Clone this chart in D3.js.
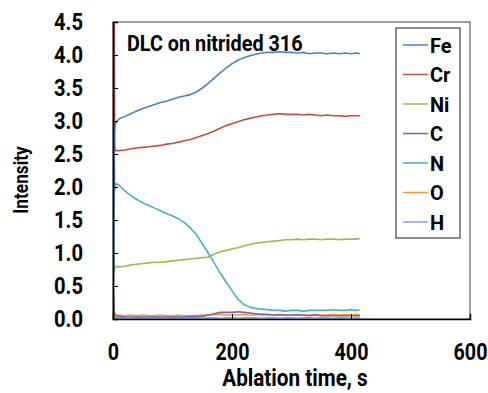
<!DOCTYPE html>
<meta charset="utf-8">
<script src="https://cdn.jsdelivr.net/npm/d3@7"></script>
<style>
  body { margin: 0; background: #fff; }
  text { font-family: Roboto, "Liberation Sans", sans-serif; font-weight: 700; fill: #000; }
</style>
<div id="chart"></div>

<script>
    var width = 488, height = 393;

    // ablation time (s)
    const time = [0, 1, 2, 3, 5, 10, 20, 30, 40, 50, 60, 70, 80, 90, 100, 110, 120, 130, 140, 150,
        160, 170, 180, 190, 200, 210, 220, 230, 240, 250, 260, 270, 280, 290, 300, 310, 320,
        330, 340, 350, 360, 370, 380, 390, 400, 410, 415];

    const fe = [0, 0.5, 2.8, 2.9, 2.98, 3.03, 3.07, 3.11, 3.15, 3.19, 3.22, 3.25, 3.28, 3.3, 3.33, 3.36, 3.38, 3.4, 3.44, 3.5,
        3.57, 3.65, 3.73, 3.8, 3.87, 3.92, 3.96, 3.99, 4.01, 4.03, 4.04, 4.04, 4.05, 4.04, 4.04, 4.03, 4.04,
        4.02, 4.03, 4.03, 4.02, 4.03, 4.02, 4.03, 4.02, 4.03, 4.02];
    const cr = [0, 4.8, 4.8, 2.6, 2.55, 2.55, 2.56, 2.58, 2.59, 2.6, 2.61, 2.62, 2.63, 2.65, 2.66, 2.68, 2.7, 2.72, 2.75, 2.78,
        2.81, 2.85, 2.89, 2.93, 2.96, 2.99, 3.02, 3.04, 3.06, 3.08, 3.09, 3.1, 3.11, 3.1, 3.1, 3.1, 3.09,
        3.1, 3.09, 3.08, 3.09, 3.08, 3.08, 3.07, 3.08, 3.08, 3.08];
    const ni = [0, 1.1, 0.7, 0.78, 0.8, 0.79, 0.8, 0.82, 0.83, 0.84, 0.85, 0.86, 0.86, 0.87, 0.88, 0.89, 0.9, 0.91, 0.92, 0.93,
        0.94, 0.98, 1.02, 1.04, 1.06, 1.08, 1.11, 1.13, 1.15, 1.16, 1.17, 1.18, 1.19, 1.2, 1.2, 1.21, 1.2,
        1.21, 1.21, 1.2, 1.21, 1.21, 1.2, 1.21, 1.21, 1.21, 1.22];
    const c = [0, 0.35, 0.1, 0.06, 0.05, 0.04, 0.03, 0.03, 0.03, 0.03, 0.03, 0.03, 0.03, 0.03, 0.03, 0.03, 0.03, 0.04, 0.04, 0.04,
        0.06, 0.08, 0.1, 0.1, 0.1, 0.11, 0.1, 0.09, 0.08, 0.07, 0.07, 0.06, 0.06, 0.06, 0.06, 0.06, 0.06,
        0.05, 0.06, 0.05, 0.05, 0.05, 0.05, 0.05, 0.05, 0.05, 0.05];
    const n = [0, 1.5, 2.75, 1.95, 2.05, 2.03, 1.94, 1.87, 1.81, 1.76, 1.72, 1.68, 1.64, 1.6, 1.56, 1.52, 1.46, 1.38, 1.28, 1.14,
        1.0, 0.85, 0.7, 0.56, 0.43, 0.3, 0.22, 0.18, 0.16, 0.15, 0.14, 0.13, 0.13, 0.12, 0.13, 0.13, 0.12,
        0.13, 0.13, 0.13, 0.13, 0.14, 0.13, 0.13, 0.14, 0.13, 0.14];
    const o = [0, 0.45, 0.15, 0.08, 0.06, 0.06, 0.05, 0.06, 0.05, 0.06, 0.05, 0.05, 0.06, 0.05, 0.05, 0.06, 0.05, 0.05, 0.05, 0.06,
        0.06, 0.06, 0.07, 0.06, 0.06, 0.06, 0.07, 0.06, 0.06, 0.07, 0.06, 0.06, 0.07, 0.06, 0.06, 0.07, 0.06,
        0.06, 0.07, 0.06, 0.06, 0.07, 0.06, 0.07, 0.06, 0.07, 0.06];
    const h = [0, 0.3, 0.05, 0.03, 0.02, 0.02, 0.02, 0.01, 0.02, 0.02, 0.01, 0.02, 0.02, 0.01, 0.02, 0.02, 0.01, 0.02, 0.02, 0.01,
        0.02, 0.02, 0.01, 0.02, 0.02, 0.01, 0.02, 0.02, 0.02, 0.01, 0.02, 0.02, 0.01, 0.02, 0.02, 0.01, 0.02,
        0.02, 0.01, 0.02, 0.02, 0.01, 0.02, 0.02, 0.01, 0.02, 0.02];

    const names = ["Fe", "Cr", "Ni", "C", "N", "O", "H"];
    const colors = ["#4F81BD", "#C0504D", "#9BBB59", "#8064A2", "#4BACC6", "#F79646", "#7EA3DC"];
    const xTicks = [0, 200, 400, 600];
    const yTicks = [0, 0.5, 1, 1.5, 2, 2.5, 3, 3.5, 4, 4.5];

    var series = [fe, cr, ni, c, n, o, h];

    var svg = d3.select("#chart")
        .append("svg")
            .attr("width", width)
            .attr("height", height);

    var x = d3.scaleLinear().domain([0, 600]).range([113, 470]);
    var y = d3.scaleLinear().domain([0, 4.5]).range([319, 22]);

    // squeeze text horizontally, the original uses a condensed face
    function condense(sel, k) {
        sel.each(function() {
            var len = this.getComputedTextLength();
            d3.select(this).attr("textLength", len * k).attr("lengthAdjust", "spacingAndGlyphs");
        });
    }

    svg.append("clipPath").attr("id", "plot-clip")
        .append("rect")
        .attr("x", x(0)).attr("y", y(4.5))
        .attr("width", x(600) - x(0)).attr("height", y(0) - y(4.5));

    // frame
    svg.append("rect")
        .attr("x", x(0)).attr("y", y(4.5))
        .attr("width", x(600) - x(0)).attr("height", y(0) - y(4.5))
        .attr("fill", "none")
        .attr("stroke", "#7f7f7f")
        .attr("stroke-width", 1.5);

    var line = d3.line()
        .x(function(d) { return x(d[0]); })
        .y(function(d) { return y(d[1]); });

    var order = [6, 5, 3, 2, 4, 1, 0];
    svg.append("g")
        .attr("clip-path", "url(#plot-clip)")
        .selectAll("path")
        .data(order)
        .enter().append("path")
            .attr("d", function(i) { return line(time.map(function(t, k) { return [t, series[i][k]]; })); })
            .attr("fill", "none")
            .attr("stroke", function(i) { return colors[i]; })
            .attr("stroke-width", 1.6)
            .attr("stroke-linejoin", "round");

    // axes
    var yAxis = svg.append("g")
        .attr("transform", "translate(" + x(0) + ",0)")
        .call(d3.axisLeft(y).tickValues(yTicks).tickSize(-5).tickPadding(30).tickFormat(d3.format(".1f")));
    yAxis.select(".domain").attr("stroke", "#000").attr("stroke-width", 1.5);
    yAxis.selectAll("text").style("font-size", "24px").call(condense, 0.84);

    var xAxis = svg.append("g")
        .attr("transform", "translate(0," + y(0) + ")")
        .call(d3.axisBottom(x).tickValues(xTicks).tickSize(-5).tickPadding(24).tickFormat(d3.format("d")));
    xAxis.select(".domain").attr("stroke", "#000").attr("stroke-width", 1.5);
    xAxis.selectAll("text").style("font-size", "24px").call(condense, 0.82);

    svg.append("text")
        .attr("x", 295).attr("y", 386)
        .attr("text-anchor", "middle")
        .style("font-size", "23px")
        .text("Ablation time, s")
        .call(condense, 0.9);

    svg.append("text")
        .attr("transform", "translate(28,180) rotate(-90)")
        .attr("text-anchor", "middle")
        .style("font-size", "21px")
        .text("Intensity")
        .call(condense, 0.82);

    svg.append("text")
        .attr("x", 127).attr("y", 51)
        .style("font-size", "22px")
        .text("DLC on nitrided 316")
        .call(condense, 0.9);

    // legend
    var legend = svg.append("g");
    legend.append("rect")
        .attr("x", 396).attr("y", 28)
        .attr("width", 64).attr("height", 210)
        .attr("fill", "#fff")
        .attr("stroke", "#404040")
        .attr("stroke-width", 1.2);

    var items = legend.selectAll("g.item")
        .data(names)
        .enter().append("g")
            .attr("class", "item")
            .attr("transform", function(d, i) { return "translate(0," + (45 + i * 29.5) + ")"; });
    items.append("line")
        .attr("x1", 403).attr("x2", 428)
        .attr("stroke", function(d, i) { return colors[i]; })
        .attr("stroke-width", 1.5);
    items.append("text")
        .attr("x", 430).attr("dy", "0.36em")
        .style("font-size", "21px")
        .text(function(d) { return d; })
        .call(condense, 0.95);
</script>
